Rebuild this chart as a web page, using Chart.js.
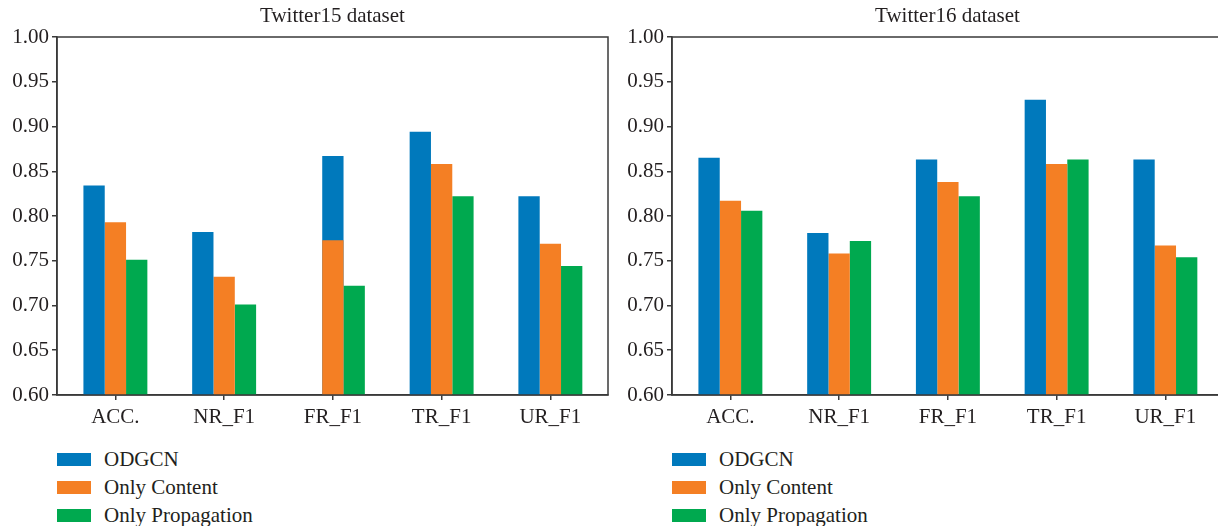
<!DOCTYPE html>
<html>
<head>
<meta charset="utf-8">
<script src="https://cdn.jsdelivr.net/npm/chart.js@4.4.0/dist/chart.umd.min.js"></script>
<style>
  body { margin: 0; width: 1218px; height: 526px; overflow: hidden; background: #fff; position: relative; font-family: "Liberation Serif", "DejaVu Serif", serif; color: #231f20; }
  .panel { position: absolute; top: 0; width: 610px; height: 526px; }
  .panel canvas { position: absolute; left: 0; top: 0; }
  .legend { position: absolute; left: 57px; top: 445px; }
  .legend div { height: 28px; display: flex; align-items: center; font-size: 21px; }
  .legend span.sw { display: inline-block; width: 34px; height: 13px; margin-right: 13px; }
</style>
</head>
<body>
<div class="panel" style="left:0"><canvas id="chart15" width="610" height="430"></canvas><div class="legend" id="legend15"></div></div>
<div class="panel" style="left:615px"><canvas id="chart16" width="610" height="430"></canvas><div class="legend" id="legend16"></div></div>
<script>
var categories = ['ACC.', 'NR_F1', 'FR_F1', 'TR_F1', 'UR_F1'];
var seriesNames = ['ODGCN', 'Only Content', 'Only Propagation'];
var seriesColors = ['#0079bc', '#f47f24', '#00a94f'];
var yTicks = [0.60, 0.65, 0.70, 0.75, 0.80, 0.85, 0.90, 0.95, 1.00];

// Twitter15
var t15Odgcn = [0.834, 0.782, 0.867, 0.894, 0.822];
var t15Content = [0.793, 0.732, 0.773, 0.858, 0.769];
var t15Propagation = [0.751, 0.701, 0.722, 0.822, 0.744];
// in the original figure the ODGCN bar of FR_F1 sits behind the orange one
var t15ShiftedIndex = 2;

// Twitter16
var t16Odgcn = [0.865, 0.781, 0.863, 0.930, 0.863];
var t16Content = [0.817, 0.758, 0.838, 0.858, 0.767];
var t16Propagation = [0.806, 0.772, 0.822, 0.863, 0.754];

var axisColor = '#3a3a3a';
var textColor = '#231f20';
var font = { family: '"Liberation Serif", "DejaVu Serif", serif', size: 21 };

var boxPlugin = {
    id: 'box',
    afterDraw: function (chart) {
        var a = chart.chartArea, ctx = chart.ctx;
        ctx.save();
        ctx.strokeStyle = axisColor;
        ctx.lineWidth = 1.5;
        ctx.strokeRect(a.left, a.top, a.right - a.left, a.bottom - a.top);
        ctx.fillStyle = textColor;
        ctx.font = '21px ' + font.family;
        ctx.textAlign = 'center';
        ctx.textBaseline = 'middle';
        ctx.fillText(chart.options.plugins.box.title, (a.left + a.right) / 2, 16);
        ctx.restore();
    }
};

function points(values, keep) {
    return values.map(function (v, i) {
        return { x: i, y: keep(i) ? v : null };
    });
}

function makeChart(id, title, odgcn, content, propagation, shifted) {
    var all = function () { return true; };
    var datasets = [
        { label: seriesNames[0], data: points(odgcn, function (i) { return i !== shifted; }), backgroundColor: seriesColors[0], stack: 'a' },
        { label: seriesNames[1], data: points(content, all), backgroundColor: seriesColors[1], stack: 'b' },
        { label: seriesNames[2], data: points(propagation, all), backgroundColor: seriesColors[2], stack: 'c' },
        { label: seriesNames[0] + ' ', data: points(odgcn, function (i) { return i === shifted; }), backgroundColor: seriesColors[0], stack: 'b' }
    ];
    datasets.forEach(function (d) {
        d.categoryPercentage = 0.588;
        d.barPercentage = 1.0;
        d.borderWidth = 0;
    });
    return new Chart(document.getElementById(id), {
        type: 'bar',
        data: { datasets: datasets },
        plugins: [boxPlugin],
        options: {
            responsive: false,
            animation: false,
            layout: { padding: { top: 37, right: 2, left: 0, bottom: 0 } },
            plugins: {
                legend: { display: false },
                tooltip: { enabled: false },
                box: { title: title }
            },
            scales: {
                x: {
                    type: 'linear',
                    offset: false,
                    min: -0.537,
                    max: 4.53,
                    afterBuildTicks: function (s) { s.ticks = categories.map(function (c, i) { return { value: i }; }); },
                    grid: { display: true, offset: false, drawOnChartArea: false, tickLength: 5, tickColor: axisColor, lineWidth: 1.5 },
                    border: { color: axisColor, width: 1.5 },
                    ticks: {
                        color: textColor, font: font, padding: 5, maxRotation: 0, autoSkip: false,
                        callback: function (v) { return categories[v]; }
                    },
                    afterFit: function (s) { s.height = 35; }
                },
                y: {
                    stacked: false,
                    min: 0.6,
                    max: 1.0,
                    afterBuildTicks: function (s) { s.ticks = yTicks.map(function (v) { return { value: v }; }); },
                    grid: { display: true, drawOnChartArea: false, tickLength: 5, tickColor: axisColor, lineWidth: 1.5 },
                    border: { color: axisColor, width: 1.5 },
                    ticks: {
                        color: textColor, font: font, padding: 3,
                        callback: function (v) { return Number(v).toFixed(2); }
                    },
                    afterFit: function (s) { s.width = 57; }
                }
            }
        }
    });
}

function makeLegend(id) {
    var el = document.getElementById(id);
    seriesNames.forEach(function (name, i) {
        var row = document.createElement('div');
        row.innerHTML = '<span class="sw" style="background:' + seriesColors[i] + '"></span>' + name;
        el.appendChild(row);
    });
}

makeChart('chart15', 'Twitter15 dataset', t15Odgcn, t15Content, t15Propagation, t15ShiftedIndex);
makeChart('chart16', 'Twitter16 dataset', t16Odgcn, t16Content, t16Propagation, -1);
makeLegend('legend15');
makeLegend('legend16');
</script>
</body>
</html>
